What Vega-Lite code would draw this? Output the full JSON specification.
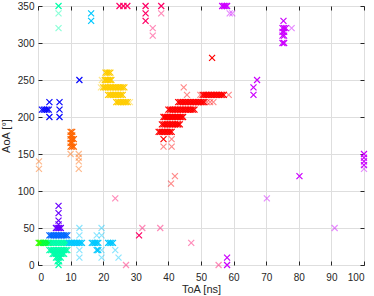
{
 "$schema": "https://vega.github.io/schema/vega-lite/v6.json",
 "width": 326, "height": 259,
 "autosize": "none",
 "padding": {"left": 38, "top": 6, "right": 10, "bottom": 31},
 "background": "white",
 "config": {
  "view": {"stroke": "#262626", "strokeWidth": 1},
  "font": "Liberation Sans",
  "axis": {"domain": false, "gridColor": "#dedede", "gridWidth": 1, "tickColor": "#262626", "tickSize": -4, "labelColor": "#262626", "labelFontSize": 10, "titleFontSize": 11, "titleFontWeight": "normal", "titleColor": "#262626", "labelPadding": 8}
 },
 "datasets": {
  "core": [
   {"x":0.2,"y":30,"c":"a"},{"x":0.6,"y":30,"c":"a"},{"x":1.0,"y":30,"c":"a"},
   {"x":1.5,"y":30,"c":"b"},{"x":2,"y":30,"c":"b"},{"x":2.5,"y":30,"c":"b"},{"x":3,"y":30,"c":"b"},{"x":3.5,"y":30,"c":"b"},
   {"x":4,"y":30,"c":"c"},{"x":4.5,"y":30,"c":"c"},{"x":5,"y":30,"c":"c"},{"x":5.5,"y":30,"c":"c"},{"x":6,"y":30,"c":"c"},{"x":6.5,"y":30,"c":"c"},{"x":7,"y":30,"c":"c"},{"x":7.5,"y":30,"c":"c"},{"x":8,"y":30,"c":"c"},{"x":8.5,"y":30,"c":"c"},{"x":9,"y":30,"c":"c"},
   {"x":3.5,"y":20,"c":"c"},{"x":4,"y":20,"c":"c"},{"x":4.5,"y":20,"c":"c"},{"x":5,"y":20,"c":"c"},{"x":5.5,"y":20,"c":"c"},{"x":6,"y":20,"c":"c"},{"x":6.5,"y":20,"c":"c"},{"x":7,"y":20,"c":"c"},{"x":7.5,"y":20,"c":"c"},{"x":8,"y":20,"c":"c"},{"x":8.5,"y":20,"c":"c"},{"x":9,"y":20,"c":"c"},
   {"x":4.5,"y":15,"c":"c"},{"x":5,"y":15,"c":"c"},{"x":5.5,"y":15,"c":"c"},{"x":6,"y":15,"c":"c"},{"x":6.5,"y":15,"c":"c"},{"x":7,"y":15,"c":"c"},{"x":7.5,"y":15,"c":"c"},{"x":8,"y":15,"c":"c"},
   {"x":5.5,"y":10,"c":"c"},{"x":6,"y":10,"c":"c"},{"x":6.5,"y":10,"c":"c"},{"x":7,"y":10,"c":"c"},
   {"x":6,"y":5,"c":"c"},{"x":6.5,"y":5,"c":"c"},{"x":6.3,"y":0,"c":"c"},{"x":6.3,"y":350,"c":"c"},
   {"x":9.5,"y":30,"c":"d"},{"x":10,"y":30,"c":"d"},{"x":10.5,"y":30,"c":"d"},{"x":11,"y":30,"c":"d"},{"x":11.5,"y":30,"c":"d"},{"x":12,"y":30,"c":"d"},{"x":12.5,"y":30,"c":"d"},{"x":13,"y":30,"c":"d"},{"x":13.5,"y":30,"c":"d"},
   {"x":16.5,"y":30,"c":"d"},{"x":17,"y":30,"c":"d"},{"x":17.5,"y":30,"c":"d"},{"x":18,"y":30,"c":"d"},{"x":18.5,"y":30,"c":"d"},
   {"x":21.5,"y":30,"c":"d"},{"x":22,"y":30,"c":"d"},{"x":22.5,"y":30,"c":"d"},{"x":23,"y":30,"c":"d"},
   {"x":18,"y":20,"c":"d"},{"x":18.5,"y":20,"c":"d"},{"x":16.3,"y":340,"c":"d"},{"x":16.3,"y":330,"c":"d"},
   {"x":3.5,"y":40,"c":"e"},{"x":4,"y":40,"c":"e"},{"x":4.5,"y":40,"c":"e"},{"x":5,"y":40,"c":"e"},{"x":5.5,"y":40,"c":"e"},{"x":6,"y":40,"c":"e"},{"x":6.5,"y":40,"c":"e"},{"x":7,"y":40,"c":"e"},{"x":7.5,"y":40,"c":"e"},{"x":8,"y":40,"c":"e"},{"x":8.5,"y":40,"c":"e"},{"x":9,"y":40,"c":"e"},
   {"x":6.3,"y":80,"c":"f"},{"x":6.3,"y":70,"c":"f"},{"x":6.3,"y":60,"c":"f"},{"x":6.3,"y":55,"c":"f"},{"x":5.5,"y":50,"c":"f"},{"x":6,"y":50,"c":"f"},{"x":6.5,"y":50,"c":"f"},{"x":7,"y":50,"c":"f"},
   {"x":1.2,"y":210,"c":"g"},{"x":1.8,"y":210,"c":"g"},{"x":2.3,"y":210,"c":"g"},{"x":2.8,"y":210,"c":"g"},{"x":3.3,"y":210,"c":"g"},{"x":3.5,"y":220,"c":"g"},{"x":3.5,"y":200,"c":"g"},{"x":6.6,"y":220,"c":"g"},{"x":6.6,"y":210,"c":"g"},{"x":6.6,"y":200,"c":"g"},{"x":12.7,"y":250,"c":"g"},
   {"x":10,"y":180,"c":"h"},{"x":10.5,"y":180,"c":"h"},{"x":10,"y":175,"c":"h"},{"x":10.5,"y":175,"c":"h"},{"x":10,"y":170,"c":"h"},{"x":10.5,"y":170,"c":"h"},{"x":11,"y":170,"c":"h"},{"x":10,"y":165,"c":"h"},{"x":10.5,"y":165,"c":"h"},{"x":10,"y":160,"c":"h"},{"x":10.5,"y":160,"c":"h"},{"x":11,"y":160,"c":"h"},
   {"x":20.7,"y":260,"c":"i"},{"x":21.2,"y":260,"c":"i"},{"x":21.7,"y":260,"c":"i"},{"x":22.2,"y":260,"c":"i"},
   {"x":20.5,"y":250,"c":"i"},{"x":21,"y":250,"c":"i"},{"x":21.5,"y":250,"c":"i"},{"x":22,"y":250,"c":"i"},{"x":22.5,"y":250,"c":"i"},
   {"x":20,"y":240,"c":"i"},{"x":20.5,"y":240,"c":"i"},{"x":21,"y":240,"c":"i"},{"x":21.5,"y":240,"c":"i"},{"x":22,"y":240,"c":"i"},{"x":22.5,"y":240,"c":"i"},{"x":23,"y":240,"c":"i"},{"x":23.5,"y":240,"c":"i"},{"x":24,"y":240,"c":"i"},{"x":24.5,"y":240,"c":"i"},{"x":25,"y":240,"c":"i"},{"x":25.5,"y":240,"c":"i"},{"x":26,"y":240,"c":"i"},{"x":26.5,"y":240,"c":"i"},
   {"x":21.5,"y":230,"c":"i"},{"x":22,"y":230,"c":"i"},{"x":22.5,"y":230,"c":"i"},{"x":23,"y":230,"c":"i"},{"x":23.5,"y":230,"c":"i"},{"x":24,"y":230,"c":"i"},{"x":24.5,"y":230,"c":"i"},{"x":25,"y":230,"c":"i"},{"x":25.5,"y":230,"c":"i"},{"x":26,"y":230,"c":"i"},
   {"x":24,"y":220,"c":"i"},{"x":24.5,"y":220,"c":"i"},{"x":25,"y":220,"c":"i"},{"x":25.5,"y":220,"c":"i"},{"x":26,"y":220,"c":"i"},{"x":26.5,"y":220,"c":"i"},{"x":27,"y":220,"c":"i"},{"x":27.5,"y":220,"c":"i"},
   {"x":50.5,"y":230,"c":"j"},{"x":51,"y":230,"c":"j"},{"x":51.5,"y":230,"c":"j"},{"x":52,"y":230,"c":"j"},{"x":52.5,"y":230,"c":"j"},{"x":53,"y":230,"c":"j"},{"x":53.5,"y":230,"c":"j"},{"x":54,"y":230,"c":"j"},{"x":54.5,"y":230,"c":"j"},{"x":55,"y":230,"c":"j"},{"x":55.5,"y":230,"c":"j"},{"x":56,"y":230,"c":"j"},{"x":56.5,"y":230,"c":"j"},{"x":57,"y":230,"c":"j"},
   {"x":43,"y":220,"c":"j"},{"x":43.5,"y":220,"c":"j"},{"x":44,"y":220,"c":"j"},{"x":44.5,"y":220,"c":"j"},{"x":45,"y":220,"c":"j"},{"x":45.5,"y":220,"c":"j"},{"x":46,"y":220,"c":"j"},{"x":46.5,"y":220,"c":"j"},{"x":47,"y":220,"c":"j"},{"x":47.5,"y":220,"c":"j"},{"x":48,"y":220,"c":"j"},{"x":48.5,"y":220,"c":"j"},{"x":49,"y":220,"c":"j"},{"x":49.5,"y":220,"c":"j"},{"x":50,"y":220,"c":"j"},{"x":50.5,"y":220,"c":"j"},{"x":51,"y":220,"c":"j"},
   {"x":40,"y":210,"c":"j"},{"x":40.5,"y":210,"c":"j"},{"x":41,"y":210,"c":"j"},{"x":41.5,"y":210,"c":"j"},{"x":42,"y":210,"c":"j"},{"x":42.5,"y":210,"c":"j"},{"x":43,"y":210,"c":"j"},{"x":43.5,"y":210,"c":"j"},{"x":44,"y":210,"c":"j"},{"x":44.5,"y":210,"c":"j"},{"x":45,"y":210,"c":"j"},{"x":45.5,"y":210,"c":"j"},{"x":46,"y":210,"c":"j"},{"x":46.5,"y":210,"c":"j"},{"x":47,"y":210,"c":"j"},{"x":47.5,"y":210,"c":"j"},{"x":48,"y":210,"c":"j"},
   {"x":38.5,"y":200,"c":"j"},{"x":39,"y":200,"c":"j"},{"x":39.5,"y":200,"c":"j"},{"x":40,"y":200,"c":"j"},{"x":40.5,"y":200,"c":"j"},{"x":41,"y":200,"c":"j"},{"x":41.5,"y":200,"c":"j"},{"x":42,"y":200,"c":"j"},{"x":42.5,"y":200,"c":"j"},{"x":43,"y":200,"c":"j"},{"x":43.5,"y":200,"c":"j"},{"x":44,"y":200,"c":"j"},{"x":44.5,"y":200,"c":"j"},
   {"x":38,"y":190,"c":"j"},{"x":38.5,"y":190,"c":"j"},{"x":39,"y":190,"c":"j"},{"x":39.5,"y":190,"c":"j"},{"x":40,"y":190,"c":"j"},{"x":40.5,"y":190,"c":"j"},{"x":41,"y":190,"c":"j"},{"x":41.5,"y":190,"c":"j"},{"x":42,"y":190,"c":"j"},{"x":42.5,"y":190,"c":"j"},{"x":43,"y":190,"c":"j"},{"x":43.5,"y":190,"c":"j"},
   {"x":37,"y":180,"c":"j"},{"x":37.5,"y":180,"c":"j"},{"x":38,"y":180,"c":"j"},{"x":38.5,"y":180,"c":"j"},{"x":39,"y":180,"c":"j"},{"x":39.5,"y":180,"c":"j"},{"x":40,"y":180,"c":"j"},{"x":40.5,"y":180,"c":"j"},{"x":41,"y":180,"c":"j"},
   {"x":38.5,"y":170,"c":"j"},{"x":53.4,"y":280,"c":"j"},
   {"x":25,"y":350,"c":"k"},{"x":26.2,"y":350,"c":"k"},{"x":27.4,"y":350,"c":"k"},{"x":33,"y":350,"c":"k"},{"x":33,"y":340,"c":"k"},{"x":33,"y":330,"c":"k"},{"x":37.8,"y":350,"c":"k"},{"x":31,"y":40,"c":"k"},
   {"x":56.5,"y":350,"c":"l"},{"x":57,"y":350,"c":"l"},{"x":57.5,"y":350,"c":"l"},{"x":58,"y":350,"c":"l"},
   {"x":75.3,"y":330,"c":"l"},{"x":75,"y":320,"c":"l"},{"x":75.5,"y":320,"c":"l"},{"x":76,"y":320,"c":"l"},{"x":75,"y":315,"c":"l"},{"x":75.5,"y":315,"c":"l"},{"x":75,"y":310,"c":"l"},{"x":75.5,"y":310,"c":"l"},{"x":75,"y":300,"c":"l"},{"x":75.5,"y":300,"c":"l"},
   {"x":67.2,"y":250,"c":"l"},{"x":66.1,"y":240,"c":"l"},{"x":66.1,"y":230,"c":"l"},{"x":58,"y":10,"c":"l"},{"x":58,"y":0,"c":"l"},
   {"x":100,"y":150,"c":"l"},{"x":100,"y":145,"c":"l"},{"x":100,"y":140,"c":"l"},{"x":100,"y":135,"c":"l"},{"x":80.2,"y":120,"c":"l"}
  ],
  "noise": [
   {"x":6.3,"y":340,"c":"c"},{"x":6.3,"y":320,"c":"c"},
   {"x":12.7,"y":50,"c":"d"},{"x":12.7,"y":40,"c":"d"},{"x":12.7,"y":20,"c":"d"},{"x":12.7,"y":10,"c":"d"},{"x":18,"y":40,"c":"d"},{"x":19.5,"y":50,"c":"d"},{"x":19.5,"y":40,"c":"d"},{"x":19.5,"y":20,"c":"d"},{"x":19.5,"y":10,"c":"d"},{"x":23.7,"y":20,"c":"d"},{"x":24.7,"y":10,"c":"d"},
   {"x":10,"y":150,"c":"h"},{"x":12.5,"y":150,"c":"h"},{"x":12.5,"y":145,"c":"h"},{"x":12.5,"y":140,"c":"h"},{"x":12.5,"y":130,"c":"h"},{"x":0.3,"y":140,"c":"h"},{"x":0.3,"y":130,"c":"h"},
   {"x":19.6,"y":250,"c":"i"},{"x":19.3,"y":240,"c":"i"},{"x":28.2,"y":220,"c":"i"},
   {"x":44.7,"y":240,"c":"j"},{"x":45.7,"y":230,"c":"j"},{"x":49.8,"y":230,"c":"j"},{"x":58.5,"y":230,"c":"j"},{"x":51.8,"y":220,"c":"j"},{"x":52.8,"y":220,"c":"j"},{"x":53.8,"y":220,"c":"j"},{"x":41,"y":170,"c":"j"},{"x":38.5,"y":160,"c":"j"},{"x":41,"y":160,"c":"j"},{"x":40.8,"y":110,"c":"j"},{"x":42,"y":120,"c":"j"},{"x":43,"y":190,"c":"j"},
   {"x":37.8,"y":340,"c":"k"},{"x":35.2,"y":320,"c":"k"},{"x":35.2,"y":310,"c":"k"},{"x":32,"y":50,"c":"k"},{"x":37.5,"y":50,"c":"k"},{"x":23.7,"y":90,"c":"k"},{"x":47,"y":30,"c":"k"},{"x":55.4,"y":0,"c":"k"},{"x":27,"y":0,"c":"k"},
   {"x":58.8,"y":340,"c":"l"},{"x":59.6,"y":340,"c":"l"},{"x":77.8,"y":320,"c":"l"},{"x":100,"y":130,"c":"l"},{"x":70.2,"y":90,"c":"l"},{"x":91,"y":50,"c":"l"}
  ]
 },
 "layer": [
  {
   "data": {"name": "noise"},
   "mark": {"type": "point", "shape": "M-1,-1L1,1M-1,1L1,-1", "filled": false, "size": 36, "strokeWidth": 1.2, "opacity": 0.45},
   "encoding": {
    "x": {"field": "x", "type": "quantitative", "scale": {"domain": [0, 100], "nice": false}, "axis": {"values": [0,10,20,30,40,50,60,70,80,90,100], "title": "ToA [ns]", "titlePadding": 1, "labelPadding": 11}},
    "y": {"field": "y", "type": "quantitative", "scale": {"domain": [0, 350], "nice": false}, "axis": {"values": [0,50,100,150,200,250,300,350], "title": "AoA [°]", "titlePadding": 6}},
    "color": {"field": "c", "type": "nominal", "legend": null, "scale": {"domain": ["a","b","c","d","e","f","g","h","i","j","k","l"], "range": ["#33ff00","#00ff3c","#00ffaa","#00c8ff","#0066ff","#6a00ff","#0a0aff","#ff6600","#ffcc00","#ff0000","#ff0066","#cc00ff"]}}
   }
  },
  {
   "data": {"name": "core"},
   "mark": {"type": "point", "shape": "M-1,-1L1,1M-1,1L1,-1", "filled": false, "size": 36, "strokeWidth": 1.2, "opacity": 1},
   "encoding": {
    "x": {"field": "x", "type": "quantitative", "axis": null},
    "y": {"field": "y", "type": "quantitative", "axis": null},
    "color": {"field": "c", "type": "nominal", "legend": null}
   }
  },
  {
   "data": {"name": "core"},
   "mark": {"type": "point", "opacity": 0},
   "encoding": {
    "x": {"field": "x", "type": "quantitative", "axis": {"orient": "top", "values": [0,10,20,30,40,50,60,70,80,90,100], "labels": false, "grid": false, "title": null}},
    "y": {"field": "y", "type": "quantitative", "axis": {"orient": "right", "values": [0,50,100,150,200,250,300,350], "labels": false, "grid": false, "title": null}}
   }
  }
 ],
 "resolve": {"axis": {"x": "independent", "y": "independent"}}
}
